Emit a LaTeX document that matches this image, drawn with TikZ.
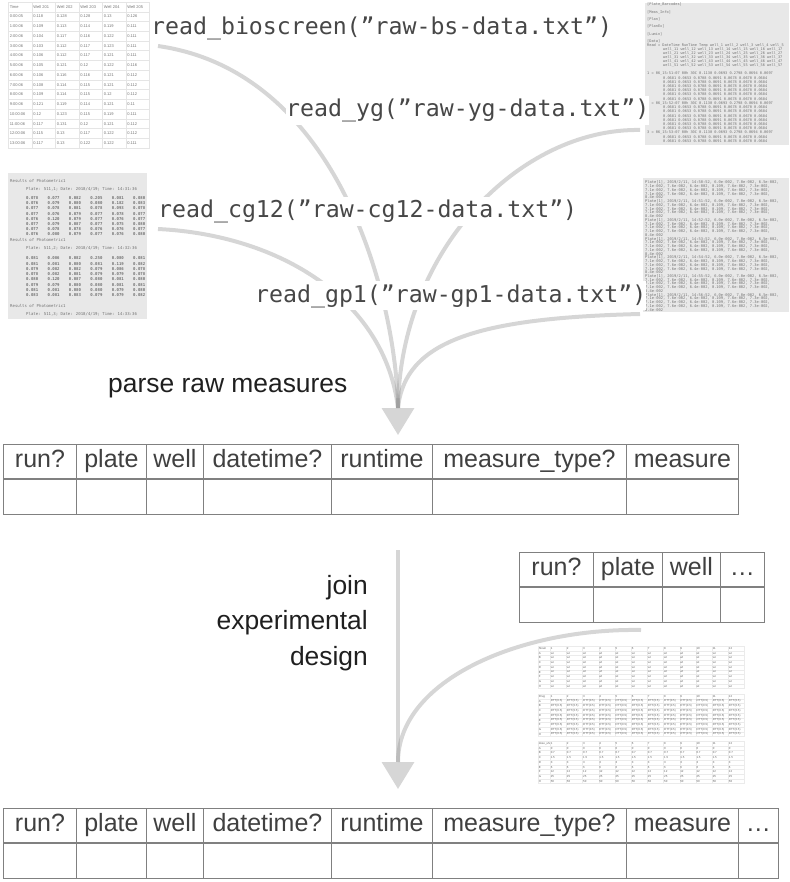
\documentclass[tikz,border=0pt]{standalone}
\usepackage{fontspec}
\setmainfont{Liberation Sans}
\newfontfamily\codefont{DejaVu Sans Mono}
\usetikzlibrary{positioning, arrows.meta}

% fixed-width number columns for the raw text dumps
\newcommand{\numrow}[2]{\foreach \v in #2{\makebox[#1][l]{\v}}}
% contents of the plate design sheet
\newcommand{\designcell}[2]{\ifcase#1 wt\or DTT(0.5)\or\ifcase#2\or 0\or 0.7\or 1.5\or 3\or 6\or 12\or 25\or 50\fi\fi}

\begin{document}
\begin{tikzpicture}[x=1pt, y=-1pt,
  flow/.style={draw=black!40, draw opacity=0.4, line width=4pt},
  flowhead/.style={draw=black!16, line width=3.5pt, -{Triangle[width=32pt, length=27pt]}},
  codelabel/.style={anchor=base west, fill=white, inner xsep=0pt, inner ysep=3pt, text=black!72, font=\codefont\fontsize{23.2}{27}\selectfont},
  stagelabel/.style={inner sep=0pt, text=black!88, font=\fontsize{26.4}{35.5}\selectfont},
  headcell/.style={draw=black!50, line width=0.9pt, anchor=north west, minimum height=34, inner sep=0pt, text height=18pt, text depth=5pt, text=black!75, font=\fontsize{25}{30}\selectfont},
  bodycell/.style={draw=black!50, line width=0.9pt, minimum height=35, inner sep=0pt},
  rawbox/.style={anchor=north west, fill=black!9, inner sep=0pt},
  rawline/.style={anchor=base west, inner sep=0pt, text=black!55, font=\codefont\fontsize{3.8}{4}\selectfont},
  ygfont/.style={font=\codefont\fontsize{3.6}{4}\selectfont},
  gpfont/.style={font=\codefont\fontsize{3.7}{4}\selectfont},
  bscell/.style={anchor=north west, draw=black!10, line width=0.4pt, minimum width=23.5, minimum height=9.74, inner xsep=1.6pt, inner ysep=0pt, text width=20.3pt, align=left, text=black!55, font=\fontsize{4}{4.5}\selectfont},
  dcell/.style={anchor=north west, draw=black!8, line width=0.3pt, minimum width=16.2, minimum height=4.7, inner xsep=0.6pt, inner ysep=0pt, text width=15pt, align=left, text=black!60, font=\fontsize{2.9}{3}\selectfont}
]
\useasboundingbox (0,0) rectangle (789,882);

% bioscreen sheet
\foreach \row [count=\r] in {{Time,Well 201,Well 202,Well 203,Well 204,Well 205},
    {0:00:05,0.118,0.128,0.128,0.13,0.126}, {1:00:06,0.109,0.113,0.114,0.119,0.111},
    {2:00:06,0.104,0.117,0.116,0.122,0.111}, {3:00:06,0.103,0.112,0.117,0.123,0.111},
    {4:00:06,0.106,0.112,0.117,0.121,0.111}, {5:00:06,0.105,0.121,0.12,0.122,0.116},
    {6:00:06,0.106,0.116,0.116,0.121,0.112}, {7:00:06,0.108,0.114,0.115,0.121,0.112},
    {8:00:06,0.109,0.114,0.115,0.12,0.112}, {9:00:06,0.121,0.119,0.114,0.121,0.11},
    {10:00:06,0.12,0.123,0.115,0.119,0.111}, {11:00:06,0.117,0.131,0.12,0.121,0.112},
    {12:00:06,0.115,0.13,0.117,0.122,0.112}, {13:00:06,0.117,0.13,0.122,0.122,0.111}} {
  \foreach \cell [count=\c] in \row
    \node[bscell] (bs-\r-\c) at ({8+23.5*(\c-1)},{1.8+9.74*(\r-1)}) {\cell};
}

% yg export
\node[rawbox, minimum width=144, minimum height=142] (ygimg) at (645,3) {};
\foreach \t [count=\k] in {{[Plate\_Barcodes]},{[Meas\_Info]},{[Plan]},{[PlanEx]},{[Lumin]},{[Data]}}
  \node[rawline, ygfont] (yg-tag-\k) at (647,{6+7.3*(\k-1)}) {\t};
\node[rawline, ygfont] (yg-head) at (647,46.5) {Read = DateTime RunTime Temp well\_1 well\_2 well\_3 well\_4 well\_5};
\foreach \k in {1,...,5}
  \node[rawline, ygfont] (yg-well-\k) at (663,{46.5+4*\k}) {well\_\k1 well\_\k2 well\_\k3 well\_\k4 well\_\k5 well\_\k6 well\_\k7};
\foreach \n/\top/\m in {1/75/6, 2/104.5/6, 3/134/2} {
  \node[rawline, ygfont] (yg-read-\n) at (647,\top) {\n{} = 06\_15:5\n:07 00h 30C 0.1130 0.0693 0.2798 0.0694 0.0697};
  \foreach \k in {1,...,\m}
    \node[rawline, ygfont] (yg-val-\n-\k) at (663,{\top+4.2*\k}) {0.0681 0.0653 0.0708 0.0691 0.0678 0.0670 0.0684};
}

% cg12 photometric dump
\node[rawbox, minimum width=139, minimum height=146] (cgimg) at (8,173) {};
\foreach \top/\n in {182.5/1, 242/2, 307.5/3} {
  \node[rawline, font=\codefont\fontsize{4}{4}\selectfont] (cg-res-\n) at (10,\top) {Results of Photometric1};
  \node[rawline, font=\codefont\fontsize{4}{4}\selectfont] (cg-plate-\n) at (26,{\top+8}) {Plate: 511,\n; Date: 2018/4/19; Time: 14:3\n:36};
}
\foreach \base/\rows [count=\b] in {199.5/{{0.078,0.077,0.082,0.205,0.081,0.080},{0.076,0.079,0.080,0.080,0.182,0.083},
      {0.077,0.078,0.081,0.078,0.093,0.078},{0.077,0.076,0.079,0.077,0.078,0.077},{0.076,0.120,0.079,0.077,0.076,0.077},
      {0.077,0.079,0.087,0.077,0.075,0.080},{0.077,0.078,0.078,0.076,0.076,0.077},{0.076,0.080,0.079,0.077,0.076,0.080}},
    260/{{0.081,0.086,0.082,0.250,0.080,0.081},{0.081,0.081,0.080,0.081,0.119,0.082},{0.079,0.082,0.082,0.079,0.086,0.078},
      {0.078,0.082,0.081,0.079,0.079,0.078},{0.080,0.120,0.087,0.080,0.081,0.080},{0.079,0.079,0.080,0.080,0.081,0.081},
      {0.081,0.081,0.080,0.080,0.079,0.080},{0.083,0.081,0.083,0.079,0.079,0.082}}} {
  \foreach \vals [count=\k] in \rows
    \node[rawline, font=\codefont\bfseries\fontsize{4}{4}\selectfont] (cg-row-\b-\k) at (26,{\base+5.2*(\k-1)}) {\numrow{21.4pt}{\vals}};
}

% gp1 export
\node[rawbox, minimum width=146, minimum height=134] (gpimg) at (643,178) {};
\foreach \n in {0,...,6} {
  \node[rawline, gpfont] (gp-\n-0) at (645,{184+18.7*\n}) {Plate[1], 2019/2/11, 14:5\n:52, 6.0e-002, 7.0e-002, 6.5e-002,};
  \foreach \k in {1,2,3}
    \node[rawline, gpfont] (gp-\n-\k) at (645,{184+18.7*\n+3.74*\k}) {7.1e-002, 7.6e-002, 6.4e-002, 0.109, 7.6e-002, 7.3e-002,};
  \node[rawline, gpfont] (gp-\n-4) at (645,{184+18.7*\n+14.96}) {8.4e-002};
}

% plate design sheet
\foreach \b/\top/\hd in {0/646/Strain, 1/694/Drug, 2/741/dose\_uM} {
  \node[dcell, minimum width=12, text width=10.8pt] (ds-\b-0-0) at (538,\top) {\hd};
  \foreach \c in {1,...,12}
    \node[dcell] (ds-\b-0-\c) at ({550+16.2*(\c-1)},\top) {\c};
  \foreach \lt [count=\k] in {A,...,H} {
    \node[dcell, minimum width=12, text width=10.8pt] (ds-\b-\k-0) at (538,{\top+4.7*\k}) {\lt};
    \foreach \c in {1,...,12}
      \node[dcell] (ds-\b-\k-\c) at ({550+16.2*(\c-1)},{\top+4.7*\k}) {\designcell{\b}{\k}};
  }
}

% Connector ends
\coordinate (bs-out) at (158,46);
\coordinate (yg-out) at (640,130);
\coordinate (cg-out) at (158,229);
\coordinate (gp-out) at (640,314);
\coordinate (stem1) at (398,398);
\coordinate (merge1) at (398,408);
\coordinate (tip1) at (398,435);
\coordinate (design-out) at (641,630);
\coordinate (stem2) at (398,550);
\coordinate (merge2) at (398,762);
\coordinate (tip2) at (398,789);

% Arrows
\draw[flowhead] (stem1) -- (tip1);
\draw[flow] (bs-out) .. controls (340,72) and (396,300) .. (merge1);
\draw[flow] (yg-out) .. controls (520,128) and (400,250) .. (merge1);
\draw[flow] (cg-out) .. controls (280,235) and (385,300) .. (merge1);
\draw[flow] (gp-out) .. controls (480,318) and (405,340) .. (merge1);

\draw[flowhead] (stem2) -- (tip2);
\draw[flow] (design-out) .. controls (520,628) and (398,680) .. (merge2);

% Reader calls
\node[codelabel] (bs-read) at (151,34.5) {read\_bioscreen(”raw-bs-data.txt”)};
\node[codelabel] (yg-read) at (286,117) {read\_yg(”raw-yg-data.txt”)};
\node[codelabel] (cg-read) at (158,218) {read\_cg12(”raw-cg12-data.txt”)};
\node[codelabel] (gp-read) at (255,302) {read\_gp1(”raw-gp1-data.txt”)};

% Steps
\node[stagelabel, anchor=base west] (parse) at (108,392) {parse raw measures};
\node[stagelabel, align=right, anchor=base east] (join) at (368,665) {join\\experimental\\design};

% Tables
\foreach \x/\w/\t [count=\i] in {3/73/run?, 76/70/plate, 146/57/well, 203/128/datetime?, 331/101/runtime, 432/194/measure\_type?, 626/112/measure} {
  \node[headcell, minimum width=\w] (raw-h\i) at (\x,444) {\t};
  \node[bodycell, minimum width=\w, below=0pt of raw-h\i] (raw-b\i) {};
}
\foreach \x/\w/\t [count=\i] in {519/74/run?, 593/69/plate, 662/58/well, 720/44/…} {
  \node[headcell, minimum width=\w] (des-h\i) at (\x,552) {\t};
  \node[bodycell, minimum width=\w, below=0pt of des-h\i] (des-b\i) {};
}
\foreach \x/\w/\t [count=\i] in {3/73/run?, 76/70/plate, 146/57/well, 203/128/datetime?, 331/101/runtime, 432/194/measure\_type?, 626/112/measure, 738/40/…} {
  \node[headcell, minimum width=\w] (all-h\i) at (\x,808) {\t};
  \node[bodycell, minimum width=\w, below=0pt of all-h\i] (all-b\i) {};
}

\end{tikzpicture}
\end{document}
